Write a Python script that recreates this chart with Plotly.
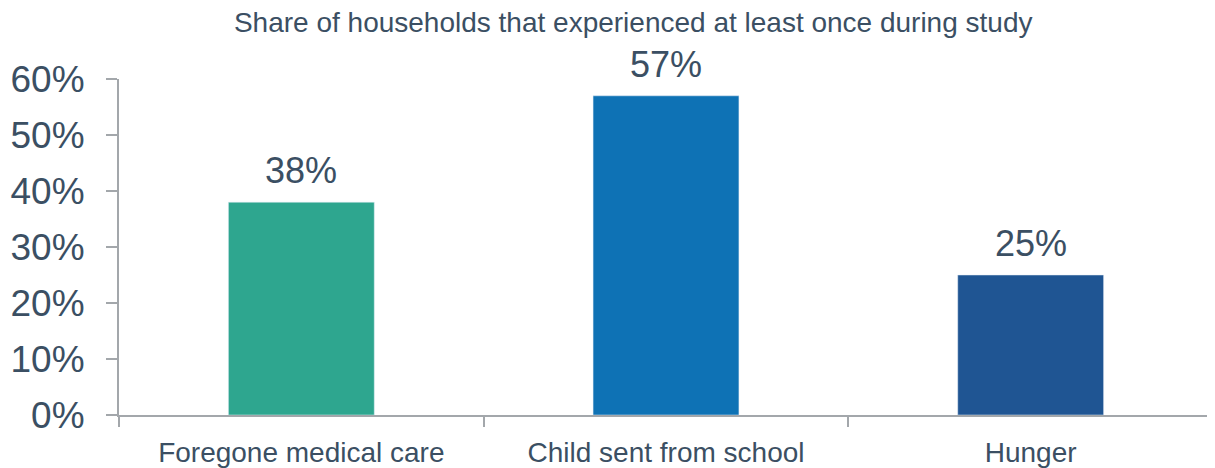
import plotly.graph_objects as go

categories = ["Foregone medical care", "Child sent from school", "Hunger"]
values = [38, 57, 25]
labels = ["38%", "57%", "25%"]
colors = ["#2ea68f", "#0e72b5", "#1f5593"]
tick_vals = [0, 10, 20, 30, 40, 50, 60]
tick_text = ["0%", "10%", "20%", "30%", "40%", "50%", "60%"]

text_color = "#3b4f63"
axis_color = "#a3a7ab"
font_family = "Liberation Sans, Arial, sans-serif"

fig = go.Figure(go.Bar(
    x=categories, y=values, marker_color=colors, width=0.4,
    cliponaxis=False,
))

for cat, val, lab in zip(categories, values, labels):
    fig.add_annotation(x=cat, y=val, text=lab, showarrow=False,
                       yanchor="bottom", yshift=9,
                       font=dict(size=36, color=text_color, family=font_family))

fig.update_layout(
    width=1207, height=460,
    margin=dict(l=111, r=2, t=71, b=53),
    paper_bgcolor="white", plot_bgcolor="white",
    showlegend=False,
    title=dict(text="Share of households that experienced at least once during study",
               x=0.518, xanchor="center", y=0.969, yanchor="middle",
               font=dict(size=28, color=text_color, family=font_family)),
    xaxis=dict(showline=True, linecolor=axis_color, linewidth=2,
               ticks="outside", tickson="boundaries", ticklen=10,
               tickcolor=axis_color, tickwidth=2, automargin=False,
               ticklabelstandoff=11,
               tickfont=dict(size=28, color=text_color, family=font_family),
               showgrid=False),
    yaxis=dict(range=[0, 60], tickvals=tick_vals, ticktext=tick_text,
               showline=True, linecolor=axis_color, linewidth=2,
               ticks="outside", ticklen=11, tickcolor=axis_color, tickwidth=2,
               automargin=False, ticklabelstandoff=14,
               tickfont=dict(size=37, color=text_color, family=font_family),
               showgrid=False, zeroline=False),
)

fig.write_html("out.html")
